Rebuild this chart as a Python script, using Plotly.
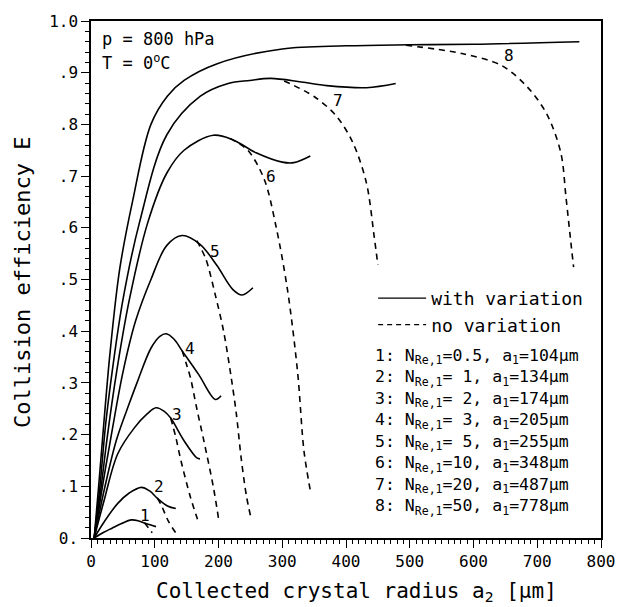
import plotly.graph_objects as go

# ---- data (a2 in um, E) ----
curve_ids = ["1", "2", "3", "4", "5", "6", "7", "8"]

solid_x = {
    "1": [5, 20, 33, 48, 63, 75, 84, 94, 102],
    "2": [5, 20, 42, 60, 79, 92, 104, 120, 133],
    "3": [5, 20, 42, 68, 88, 102, 115, 125, 146, 166, 171],
    "4": [5, 22, 40, 60, 73, 94, 108, 118, 130, 143, 169, 195, 204],
    "5": [5, 18, 32, 50, 70, 94, 119, 143, 171, 197, 223, 237, 254],
    "6": [5, 16, 26, 40, 60, 89, 119, 146, 192, 223, 259, 300, 318, 344],
    "7": [5, 14, 23, 33, 50, 76, 119, 171, 215, 249, 282, 330, 370, 432, 478],
    "8": [5, 12, 20, 30, 45, 65, 94, 120, 146, 197, 300, 400, 500, 600, 766],
}
solid_y = {
    "1": [0.0, 0.011, 0.019, 0.028, 0.035, 0.033, 0.029, 0.025, 0.022],
    "2": [0.0, 0.03, 0.067, 0.087, 0.098, 0.091, 0.077, 0.062, 0.057],
    "3": [0.0, 0.07, 0.163, 0.213, 0.240, 0.252, 0.245, 0.232, 0.188, 0.155, 0.153],
    "4": [0.0, 0.10, 0.19, 0.26, 0.303, 0.367, 0.390, 0.395, 0.385, 0.362, 0.316, 0.268, 0.275],
    "5": [0.0, 0.10, 0.20, 0.32, 0.42, 0.50, 0.566, 0.585, 0.568, 0.528, 0.480, 0.470, 0.484],
    "6": [0.0, 0.10, 0.20, 0.32, 0.46, 0.61, 0.706, 0.75, 0.779, 0.770, 0.745, 0.727, 0.726, 0.739],
    "7": [0.0, 0.10, 0.22, 0.32, 0.46, 0.61, 0.78, 0.854, 0.879, 0.885, 0.889, 0.882, 0.875, 0.871, 0.879],
    "8": [0.0, 0.10, 0.22, 0.36, 0.52, 0.65, 0.80, 0.855, 0.885, 0.917, 0.946, 0.952, 0.954, 0.955, 0.960],
}

dash_x = {
    "1": [84, 90, 96],
    "2": [104, 110, 122, 133],
    "3": [125, 133, 141, 156, 169],
    "4": [143, 150, 156, 166, 176, 192, 200],
    "5": [166, 180, 195, 208, 220, 228, 236, 244, 250],
    "6": [218, 246, 272, 290, 308, 324, 334, 344],
    "7": [303, 350, 385, 411, 432, 444, 450],
    "8": [494, 582, 644, 684, 715, 737, 745, 752, 757],
}
dash_y = {
    "1": [0.029, 0.020, 0.010],
    "2": [0.077, 0.064, 0.031, 0.010],
    "3": [0.232, 0.195, 0.150, 0.079, 0.029],
    "4": [0.362, 0.335, 0.310, 0.250, 0.194, 0.098, 0.038],
    "5": [0.575, 0.540, 0.470, 0.400, 0.310, 0.240, 0.150, 0.080, 0.044],
    "6": [0.773, 0.750, 0.693, 0.604, 0.482, 0.322, 0.169, 0.092],
    "7": [0.884, 0.854, 0.816, 0.764, 0.687, 0.585, 0.528],
    "8": [0.953, 0.937, 0.914, 0.873, 0.820, 0.745, 0.660, 0.580, 0.524],
}

label_x = [84, 107, 135, 156, 195, 282, 388, 656]
label_y = [0.044, 0.100, 0.238, 0.367, 0.555, 0.700, 0.847, 0.933]

legend_lines = [
    "1: N<sub>Re,1</sub>=0.5, a<sub>1</sub>=104μm",
    "2: N<sub>Re,1</sub>= 1, a<sub>1</sub>=134μm",
    "3: N<sub>Re,1</sub>= 2, a<sub>1</sub>=174μm",
    "4: N<sub>Re,1</sub>= 3, a<sub>1</sub>=205μm",
    "5: N<sub>Re,1</sub>= 5, a<sub>1</sub>=255μm",
    "6: N<sub>Re,1</sub>=10, a<sub>1</sub>=348μm",
    "7: N<sub>Re,1</sub>=20, a<sub>1</sub>=487μm",
    "8: N<sub>Re,1</sub>=50, a<sub>1</sub>=778μm",
]

x_ticks = [0, 100, 200, 300, 400, 500, 600, 700, 800]
x_ticktext = ["0", "100", "200", "300", "400", "500", "600", "700", "800"]
y_ticks = [0.0, 0.1, 0.2, 0.3, 0.4, 0.5, 0.6, 0.7, 0.8, 0.9, 1.0]
y_ticktext = ["0.", ".1", ".2", ".3", ".4", ".5", ".6", ".7", ".8", ".9", "1.0"]

FONT = "DejaVu Sans Mono"
fig = go.Figure()

for cid in curve_ids:
    fig.add_trace(go.Scatter(
        x=solid_x[cid], y=solid_y[cid], mode="lines",
        line=dict(color="black", width=1.6, shape="spline", smoothing=1.0),
        showlegend=False, hoverinfo="skip"))
    fig.add_trace(go.Scatter(
        x=dash_x[cid], y=dash_y[cid], mode="lines",
        line=dict(color="black", width=1.6, dash="6px,5px", shape="spline", smoothing=0.9),
        showlegend=False, hoverinfo="skip"))

# legend entries
fig.add_trace(go.Scatter(x=[None], y=[None], mode="lines", name="with variation",
                         line=dict(color="black", width=1.3)))
fig.add_trace(go.Scatter(x=[None], y=[None], mode="lines", name="no variation",
                         line=dict(color="black", width=1.3, dash="5px,4px")))

annotations = []
for cid, lx, ly in zip(curve_ids, label_x, label_y):
    annotations.append(dict(x=lx, y=ly, xref="x", yref="y", text=cid, showarrow=False,
                            font=dict(family=FONT, size=16, color="black")))

# p, T text
annotations.append(dict(x=(100 - 91) / 517, y=(538 - 35) / 521, xref="paper", yref="paper",
                        text="p = 800 hPa", showarrow=False, xanchor="left", yanchor="middle",
                        font=dict(family=FONT, size=17, color="black")))
annotations.append(dict(x=(100 - 91) / 517, y=(538 - 58) / 521, xref="paper", yref="paper",
                        text="T = 0<sup>o</sup>C", showarrow=False, xanchor="left", yanchor="middle",
                        font=dict(family=FONT, size=17, color="black")))

# numbered case list as one multi-line block
annotations.append(dict(x=(377 - 91) / 517, y=(538 - 343) / 521, xref="paper", yref="paper",
                        text="<br>".join(legend_lines), showarrow=False, align="left",
                        xanchor="left", yanchor="top",
                        font=dict(family=FONT, size=16.5, color="black")))

# axis titles
annotations.append(dict(x=(360 - 91) / 517, y=(538 - 592) / 521, xref="paper", yref="paper",
                        text="Collected crystal radius a<sub>2</sub> [μm]", showarrow=False,
                        xanchor="center", yanchor="middle",
                        font=dict(family=FONT, size=21, color="black")))
annotations.append(dict(x=(22 - 91) / 517, y=(538 - 280) / 521, xref="paper", yref="paper",
                        text="Collision efficiency E", showarrow=False, textangle=-90,
                        xanchor="center", yanchor="middle",
                        font=dict(family=FONT, size=22, color="black")))

fig.update_layout(
    width=627, height=607,
    margin=dict(l=91, r=19, t=17, b=69),
    paper_bgcolor="white", plot_bgcolor="white",
    font=dict(family=FONT, size=16, color="black"),
    showlegend=True,
    legend=dict(x=(377 - 91) / 517, y=(538 - 278) / 521, xanchor="left", yanchor="top",
                bgcolor="rgba(0,0,0,0)", font=dict(family=FONT, size=18, color="black"),
                tracegroupgap=0, itemwidth=48),
    annotations=annotations,
)
fig.update_xaxes(range=[0, 800], tickvals=x_ticks, ticktext=x_ticktext,
                 showgrid=False, zeroline=False, showline=True, linecolor="black", linewidth=1.5,
                 mirror=True, ticks="outside", ticklen=8, tickwidth=1.3, tickcolor="black",
                 minor=dict(dtick=10, ticklen=4, tickwidth=1, tickcolor="black", ticks="outside"),
                 tickfont=dict(family=FONT, size=16, color="black"))
fig.update_yaxes(range=[0, 1.0], tickvals=y_ticks, ticktext=y_ticktext,
                 showgrid=False, zeroline=False, showline=True, linecolor="black", linewidth=1.5,
                 mirror=True, ticks="outside", ticklen=8, tickwidth=1.3, tickcolor="black",
                 minor=dict(dtick=0.02, ticklen=4, tickwidth=1, tickcolor="black", ticks="outside"),
                 tickfont=dict(family=FONT, size=16, color="black"))

fig.write_html("out.html")
